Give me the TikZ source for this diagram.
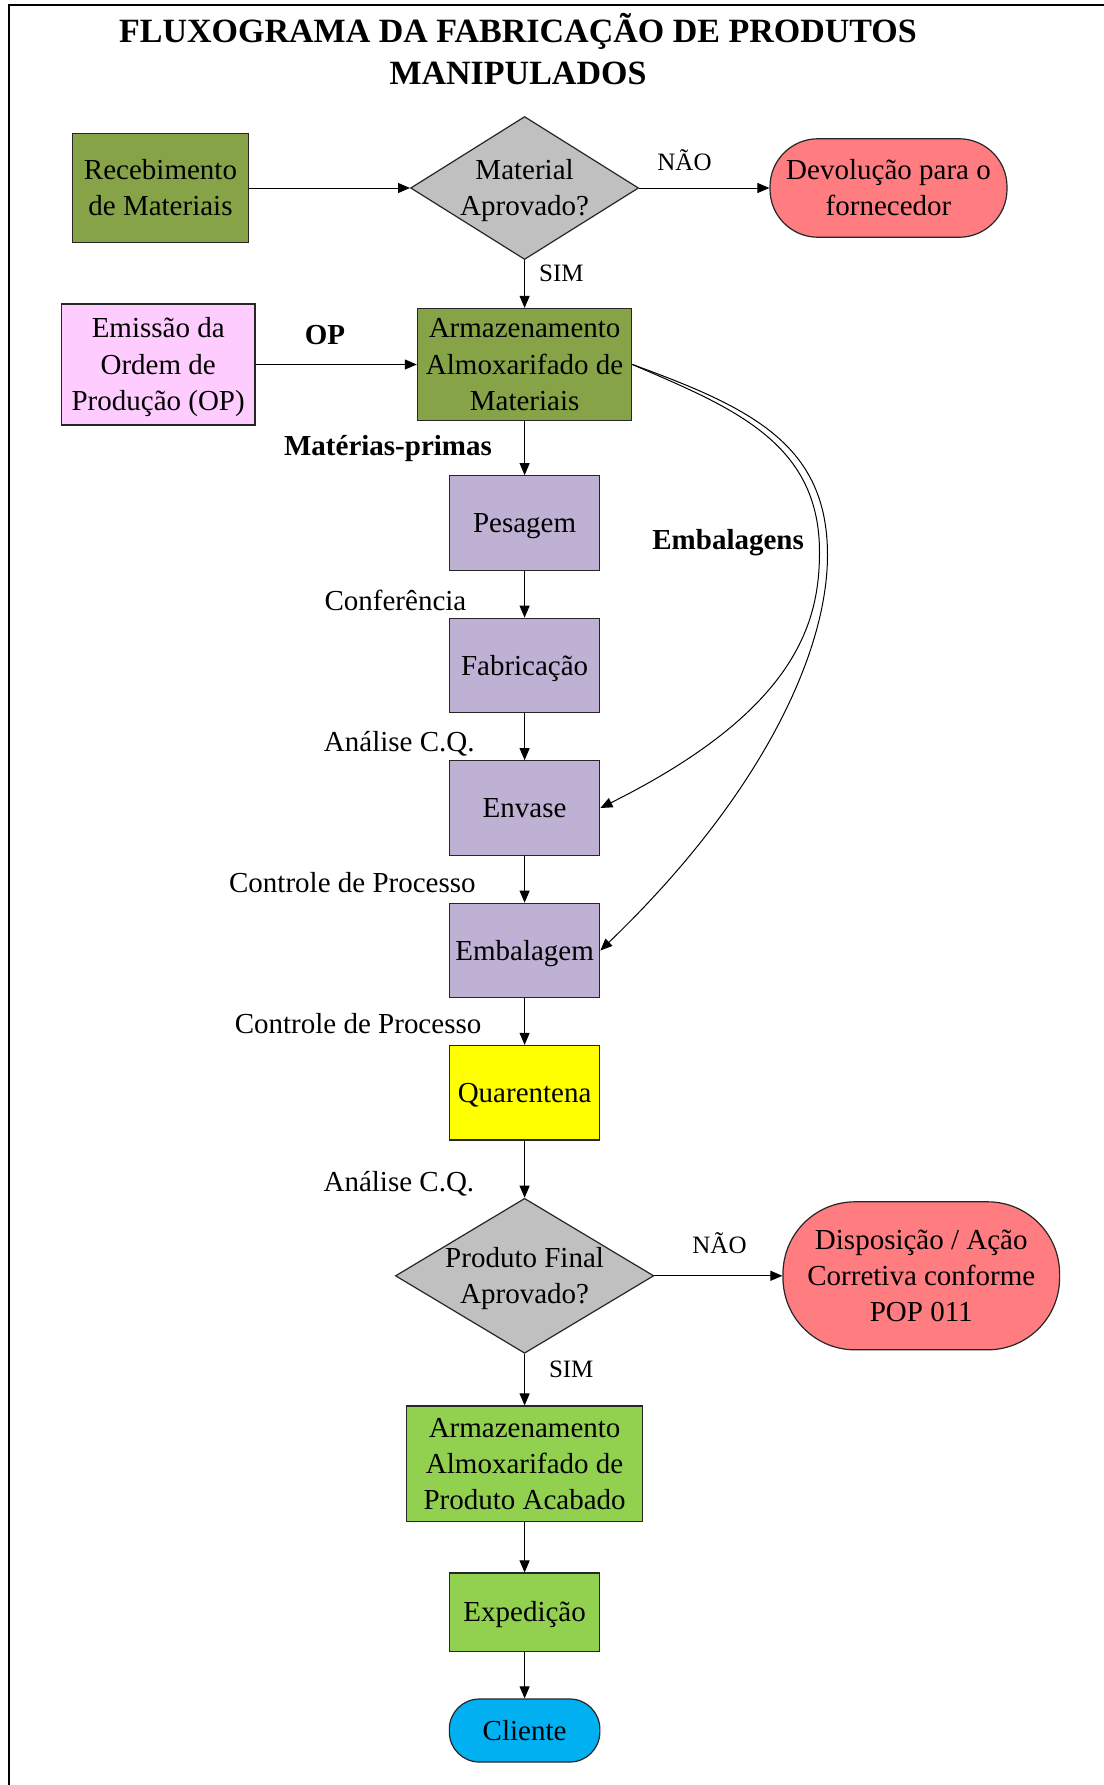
\documentclass[tikz,border=0pt]{standalone}
\usepackage{fontspec}
\setmainfont{Liberation Serif}
\usetikzlibrary{arrows.meta,shapes.geometric}

\definecolor{cOlive}{HTML}{86A447}
\definecolor{cLilac}{HTML}{BFB1D3}
\definecolor{cPink}{HTML}{FFCCFF}
\definecolor{cGrey}{HTML}{C0C0C0}
\definecolor{cSalmon}{HTML}{FF7C80}
\definecolor{cLeaf}{HTML}{92D050}
\definecolor{cSky}{HTML}{00B0F0}
\definecolor{cYellow}{HTML}{FFFF00}

% fixed first-line height and last-line depth, so capitals sit centred
\newcommand\capstrut{\rule{0pt}{14pt}}
\newcommand\basestrut{\rule[-4.4pt]{0pt}{4.4pt}}

\begin{document}
\begin{tikzpicture}[x=0.5pt,y=-0.5pt,
  font=\fontsize{14.5}{18.2}\selectfont,
  >={Triangle[length=6pt,width=5pt]},
  boxtext/.style={execute at begin node={\capstrut},
                  execute at end node={\basestrut}},
  box/.style={draw=black!85, line width=0.6pt, align=center, inner sep=0pt, boxtext},
  process/.style={box, fill=cLilac, minimum width=75.15pt, minimum height=47.25pt},
  decision/.style={diamond, draw=black!85, line width=0.6pt, fill=cGrey, inner sep=0pt},
  flow/.style={->, line width=0.5pt},
  lbl/.style={inner sep=0pt},
  boldlbl/.style={inner sep=0pt, font=\fontsize{14.5}{18.2}\selectfont\bfseries},
  smalllbl/.style={inner sep=0pt, font=\fontsize{12.5}{15}\selectfont},
  heading/.style={inner sep=0pt, font=\fontsize{17}{20.6}\selectfont\bfseries}]

\useasboundingbox (0,0) rectangle (1104,1785);
\fill[white] (0,0) rectangle (1104,1785);
% page frame
\draw[line width=1pt] (1104,5) -- (9,5) -- (9,1785);

% heading
\node[heading, anchor=base] (t1) at (518,42.7) {FLUXOGRAMA DA FABRICAÇÃO DE PRODUTOS};
\node[heading, anchor=base] (t2) at (518,84) {MANIPULADOS};

% reception and first decision
\node[box, fill=cOlive, minimum width=87.65pt, minimum height=54.6pt] (rec) at (160.5,188) {\capstrut Recebimento\\de Materiais};
\node[decision, minimum width=114pt, minimum height=71.5pt] (mat) at (524.6,188) {};
\node[lbl, align=center, boxtext] (matT) at (mat.center) {\capstrut Material\\Aprovado?};
\node[box, fill=cSalmon, rounded corners=24pt, minimum width=118.5pt, minimum height=49.25pt] (dev) at (888.5,188) {\capstrut Devolução para o\\fornecedor};

% storage and production order
\node[box, fill=cPink, minimum width=96.75pt, minimum height=60.5pt] (ord) at (158.2,364.5) {\capstrut Emissão da\\Ordem de\\Produção (OP)};
\node[box, fill=cOlive, minimum width=107.2pt, minimum height=56pt] (arm) at (524.6,364.5) {\capstrut Armazenamento\\Almoxarifado de\\Materiais};

% production steps
\node[process] (pes) at (524.6,523) {Pesagem};
\node[process] (fab) at (524.6,665.5) {Fabricação};
\node[process] (env) at (524.6,808) {Envase};
\node[process] (emb) at (524.6,950.5) {Embalagem};
\node[process, fill=cYellow] (qua) at (524.6,1092.7) {Quarentena};

% final decision
\node[decision, minimum width=129.2pt, minimum height=77.5pt] (prod) at (524.6,1275.8) {};
\node[lbl, align=center, boxtext] (prodT) at (prod.center) {\capstrut Produto Final\\Aprovado?};
\node[box, fill=cSalmon, rounded corners=36pt, minimum width=138.3pt, minimum height=74pt] (disp) at (921.3,1275.8) {\capstrut Disposição / Ação\\Corretiva conforme\\POP 011};

% finished product
\node[box, fill=cLeaf, minimum width=118.15pt, minimum height=57.85pt] (arm2) at (524.6,1463.9) {\capstrut Armazenamento\\Almoxarifado de\\Produto Acabado};
\node[box, fill=cLeaf, minimum width=75.25pt, minimum height=39.25pt] (exp) at (524.6,1612.3) {Expedição};
\node[box, fill=cSky, rounded corners=15pt, minimum width=75.25pt, minimum height=31.5pt] (cli) at (524.6,1730.5) {Cliente};

% connectors
\draw[flow] (rec.east) -- (mat.west);
\draw[flow] (mat.east) -- (dev.west);
\draw[flow] (mat.south) -- (arm.north);
\draw[flow] (ord.east) -- (arm.west);
\draw[flow] (arm.south) -- (pes.north);
\draw[flow] (pes.south) -- (fab.north);
\draw[flow] (fab.south) -- (env.north);
\draw[flow] (env.south) -- (emb.north);
\draw[flow] (emb.south) -- (qua.north);
\draw[flow] (qua.south) -- (prod.north);
\draw[flow] (prod.east) -- (disp.west);
\draw[flow] (prod.south) -- (arm2.north);
\draw[flow] (arm2.south) -- (exp.north);
\draw[flow] (exp.south) -- (cli.north);

% packaging material routes
\coordinate (peakIn) at (819.5,552);
\coordinate (peakOut) at (827.5,555);
\draw[flow] (arm.east) .. controls (732,407.5) and (819.5,442) .. (peakIn)
  .. controls (819.5,622) and (797,710) .. (env.east);
\draw[flow] (arm.east) .. controls (752,408) and (827.5,445) .. (peakOut)
  .. controls (827.5,655) and (758.4,798.7) .. (emb.east);

% connector labels
\node[smalllbl, anchor=base west] (simA) at (538.7,281) {SIM};
\node[smalllbl, anchor=base west] (naoA) at (657,170.7) {NÃO};
\node[smalllbl, anchor=base west] (simB) at (548.6,1377.3) {SIM};
\node[smalllbl, anchor=base west] (naoB) at (692,1253.3) {NÃO};
\node[boldlbl, anchor=base] (opL) at (325,344.3) {OP};
\node[boldlbl, anchor=base west] (mpL) at (283.7,455.7) {Matérias-primas};
\node[boldlbl, anchor=base west] (embL) at (652,549.5) {Embalagens};
\node[lbl, anchor=base east] (c1) at (466.7,610) {Conferência};
\node[lbl, anchor=base east] (c2) at (475,751.7) {Análise C.Q.};
\node[lbl, anchor=base east] (c3) at (476,892.7) {Controle de Processo};
\node[lbl, anchor=base east] (c4) at (481.7,1033.3) {Controle de Processo};
\node[lbl, anchor=base east] (c5) at (474.6,1191) {Análise C.Q.};
\end{tikzpicture}
\end{document}
